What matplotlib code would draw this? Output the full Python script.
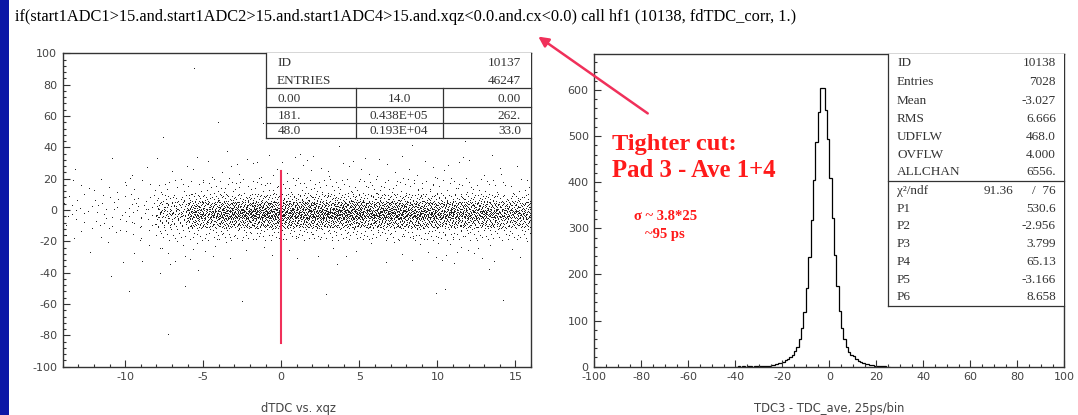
import numpy as np
import matplotlib
matplotlib.use("Agg")
import matplotlib.pyplot as plt
from matplotlib.lines import Line2D
from matplotlib.patches import FancyArrowPatch, Rectangle

plt.rcParams["axes.unicode_minus"] = False

# ---------------- data ----------------
title_text = ("if(start1ADC1>15.and.start1ADC2>15.and.start1ADC4>15.and.xqz<0.0.and.cx<0.0) "
              "call hf1 (10138, fdTDC_corr, 1.)")

# scatter density grid (dots per cell)
scat_x_edges = [-14, -12, -10, -8, -6, -4, -2, 0, 2, 4, 6, 8, 10, 12, 14, 16]
scat_y_edges = [-100, -60, -35, -20, -12, -6, 0, 5, 10, 20, 35, 60, 100]
scat_counts = [  # rows: y bands bottom->top ; cols: x bins left->right
    [0, 0, 0, 1, 0, 0, 0, 0, 0, 0, 0, 0, 0, 0, 0],            # -100..-60
    [0, 1, 1, 2, 1, 1, 0, 0, 1, 0, 0, 1, 1, 1, 1],            # -60..-35
    [1, 2, 3, 8, 6, 3, 3, 3, 3, 3, 3, 4, 8, 5, 3],            # -35..-20
    [3, 4, 6, 14, 20, 22, 22, 22, 22, 22, 22, 22, 22, 20, 18],  # -20..-12
    [4, 5, 8, 35, 70, 85, 90, 90, 90, 90, 90, 85, 80, 75, 65],  # -12..-6
    [5, 6, 10, 60, 130, 155, 165, 165, 165, 165, 165, 155, 145, 135, 115],  # -6..0
    [4, 5, 8, 35, 70, 85, 90, 90, 90, 90, 90, 85, 80, 72, 60],  # 0..5
    [3, 5, 6, 15, 26, 30, 32, 32, 32, 32, 32, 30, 28, 25, 20],  # 5..10
    [3, 5, 6, 10, 13, 15, 16, 16, 16, 16, 16, 15, 13, 12, 9],  # 10..20
    [1, 1, 2, 3, 4, 5, 6, 6, 5, 5, 5, 5, 4, 4, 2],            # 20..35
    [0, 0, 0, 1, 1, 1, 2, 2, 1, 1, 1, 1, 1, 1, 0],            # 35..60
    [0, 0, 0, 0, 1, 0, 0, 0, 0, 0, 0, 0, 0, 0, 0],            # 60..100
]
cut_line_x = 0.0
cut_line_y = [-85, 25]

left_table_head = [("ID", "10137"), ("ENTRIES", "46247")]
left_table_rows = [("0.00", "14.0", "0.00"),
                   ("181.", "0.438E+05", "262."),
                   ("48.0", "0.193E+04", "33.0")]

# histogram (1 unit per bin)
hist_first_edge = -40
hist_counts = [0, 1, 0, 1, 0, 1, 1, 0, 1, 1,          # -40 .. -31
               1, 1, 1, 2, 2, 3, 4, 5, 7, 9,          # -30 .. -21
               11, 14, 17, 21, 26, 33, 43, 59, 83, 119,  # -20 .. -11
               170, 237, 317, 404, 487, 553, 605, 605, 557, 493,  # -10 .. -1
               410, 323, 242, 174, 121, 84, 59, 42, 32, 25,  # 0 .. 9
               24, 17, 13, 10, 8, 6, 5, 4, 3, 2,      # 10 .. 19
               2, 1, 1, 1, 0, 0]                     # 20 .. 25

right_stats = [("ID", "10138"), ("Entries", "7028"), ("Mean", "-3.027"),
               ("RMS", "6.666"), ("UDFLW", "468.0"), ("OVFLW", "4.000"),
               ("ALLCHAN", "6556.")]
fit_stats = [("P1", "530.6"), ("P2", "-2.956"), ("P3", "3.799"),
             ("P4", "65.13"), ("P5", "-3.166"), ("P6", "8.658")]
chi2_text = ("91.36", "/  76")

left_xlabel = "dTDC vs. xqz"
right_xlabel = "TDC3 - TDC_ave, 25ps/bin"

# ---------------- figure ----------------
W, H = 1078, 415
fig = plt.figure(figsize=(W / 100, H / 100), dpi=100)
fig.patch.set_facecolor("white")


def fx(x):
    return x / W


def fy(y):
    return 1 - y / H


# blue slide border
fig.add_artist(Rectangle((0, 0), fx(8.5), 1, transform=fig.transFigure,
                         facecolor="#0b16a6", edgecolor="none"))

serif = "Liberation Serif"
tick_color = "#444444"
box_color = "#333333"
box_fs = 9.5

fig.text(fx(15), fy(21), title_text, family=serif, fontsize=11.8,
         color="black", va="baseline", ha="left")


def halton(i, b):
    f, r = 1.0, 0.0
    while i > 0:
        f /= b
        r += f * (i % b)
        i //= b
    return r


# ---------------- left panel ----------------
axL = fig.add_axes([fx(62.7), fy(366.7), fx(531 - 62.7), (366.7 - 53.3) / H])
xs, ys = [], []
cell = 0
for r, row in enumerate(scat_counts):
    y0, y1 = scat_y_edges[r], scat_y_edges[r + 1]
    for c, n in enumerate(row):
        x0, x1 = scat_x_edges[c], scat_x_edges[c + 1]
        off = 1 + cell * 211
        for i in range(n):
            xs.append(x0 + (x1 - x0) * halton(off + i, 2))
            ys.append(y0 + (y1 - y0) * halton(off + i, 3))
        cell += 1
axL.plot(xs, ys, ",", color="#222222")
axL.plot([cut_line_x, cut_line_x], cut_line_y, color="#f0305a", lw=1.5)
axL.set_xlim(-14, 16)
axL.set_ylim(-100, 100)
axL.set_xticks([-10, -5, 0, 5, 10, 15])
axL.set_xticks(np.arange(-14, 17, 1), minor=True)
axL.set_yticks(np.arange(-100, 101, 20))
axL.set_yticks(np.arange(-100, 101, 4), minor=True)

# ---------------- right panel ----------------
axR = fig.add_axes([fx(594.3), fy(366.7), fx(1064.3 - 594.3), (366.7 - 54) / H])
edges = np.arange(hist_first_edge, hist_first_edge + len(hist_counts) + 1)
axR.stairs(hist_counts, edges, color="black", lw=0.9)
axR.set_xlim(-100, 100)
axR.set_ylim(0, 678)
axR.set_xticks(np.arange(-100, 101, 20))
axR.set_xticks(np.arange(-100, 101, 5), minor=True)
axR.set_yticks(np.arange(0, 601, 100))
axR.set_yticks(np.arange(0, 661, 20), minor=True)

for ax in (axL, axR):
    ax.tick_params(which="both", direction="in", top=False, right=False,
                   width=0.8, color="#333333", labelsize=8, labelcolor=tick_color)
    ax.tick_params(which="major", length=5, pad=4)
    ax.tick_params(which="minor", length=2.5)
    for s in ax.spines.values():
        s.set_linewidth(1.0)
        s.set_color("#333333")
    ax.set_facecolor("none")

fig.text(fx(298), fy(408), left_xlabel, fontsize=8.3, color=tick_color,
         ha="center", va="center")
fig.text(fx(829), fy(408), right_xlabel, fontsize=8.3, color=tick_color,
         ha="center", va="center")


def hline(x0, x1, y):
    fig.add_artist(Line2D([fx(x0), fx(x1)], [fy(y), fy(y)], transform=fig.transFigure,
                          color=box_color, lw=0.9))


def vline(x, y0, y1):
    fig.add_artist(Line2D([fx(x), fx(x)], [fy(y0), fy(y1)], transform=fig.transFigure,
                          color=box_color, lw=0.9))


# left stats table
fig.add_artist(Rectangle((fx(266), fy(138.3)), fx(531 - 266), (138.3 - 53.3) / H,
                         transform=fig.transFigure, facecolor="white", edgecolor="none"))
vline(266, 53.3, 138.3)
hline(266, 531, 138.3)
hline(266, 531, 87.7)
hline(266, 531, 106.7)
hline(266, 531, 123.3)
vline(356, 87.7, 138.3)
vline(442.7, 87.7, 138.3)
for (lab, val), y in zip(left_table_head, [63.3, 80.7]):
    fig.text(fx(277), fy(y), lab, family=serif, fontsize=box_fs, color=box_color, va="center")
    fig.text(fx(521), fy(y), val, family=serif, fontsize=box_fs, color=box_color, va="center",
             ha="right")
for (a, b, c), y in zip(left_table_rows, [98.5, 115.5, 131]):
    fig.text(fx(278), fy(y), a, family=serif, fontsize=box_fs, color=box_color, va="center")
    fig.text(fx(399), fy(y), b, family=serif, fontsize=box_fs, color=box_color, va="center",
             ha="center")
    fig.text(fx(521), fy(y), c, family=serif, fontsize=box_fs, color=box_color, va="center",
             ha="right")

# right stats box
fig.add_artist(Rectangle((fx(888), fy(305.7)), fx(1064.3 - 888), (305.7 - 54) / H,
                         transform=fig.transFigure, facecolor="white", edgecolor="none"))
vline(888, 54, 305.7)
hline(888, 1064.3, 305.7)
hline(888, 1064.3, 180.7)
stat_y = [63, 82, 100.5, 118.7, 136.7, 155, 172.3]
for (lab, val), y in zip(right_stats, stat_y):
    fig.text(fx(897), fy(y), lab, family=serif, fontsize=box_fs, color=box_color, va="center")
    fig.text(fx(1056), fy(y), val, family=serif, fontsize=box_fs, color=box_color, va="center",
             ha="right")
fig.text(fx(897), fy(190.7), "χ²/ndf", family=serif, fontsize=box_fs, color=box_color,
         va="center")
fig.text(fx(1013), fy(190.7), chi2_text[0], family=serif, fontsize=box_fs, color=box_color,
         va="center", ha="right")
fig.text(fx(1056), fy(190.7), chi2_text[1], family=serif, fontsize=box_fs, color=box_color,
         va="center", ha="right")
fit_y = [208.7, 226.3, 243.7, 261.7, 279.7, 297]
for (lab, val), y in zip(fit_stats, fit_y):
    fig.text(fx(897), fy(y), lab, family=serif, fontsize=box_fs, color=box_color, va="center")
    fig.text(fx(1056), fy(y), val, family=serif, fontsize=box_fs, color=box_color, va="center",
             ha="right")

# annotations
fig.add_artist(FancyArrowPatch(posA=(fx(650), fy(115)), posB=(fx(536), fy(35)),
                               transform=fig.transFigure, arrowstyle="-|>",
                               mutation_scale=15, color="#f0305a", lw=1.8))
fig.text(fx(612), fy(150), "Tighter cut:", family=serif, fontsize=17.6, fontweight="bold",
         color="#ff1a1a", va="baseline")
fig.text(fx(612), fy(177.3), "Pad 3 - Ave 1+4", family=serif, fontsize=17.8,
         fontweight="bold", color="#ff1a1a", va="baseline")
fig.text(fx(634), fy(220), "σ ~ 3.8*25", family=serif, fontsize=10.5, fontweight="bold",
         color="#ff1a1a", va="baseline")
fig.text(fx(645), fy(238), "~95 ps", family=serif, fontsize=10.5, fontweight="bold",
         color="#ff1a1a", va="baseline")

fig.savefig("out.png", dpi=100)
